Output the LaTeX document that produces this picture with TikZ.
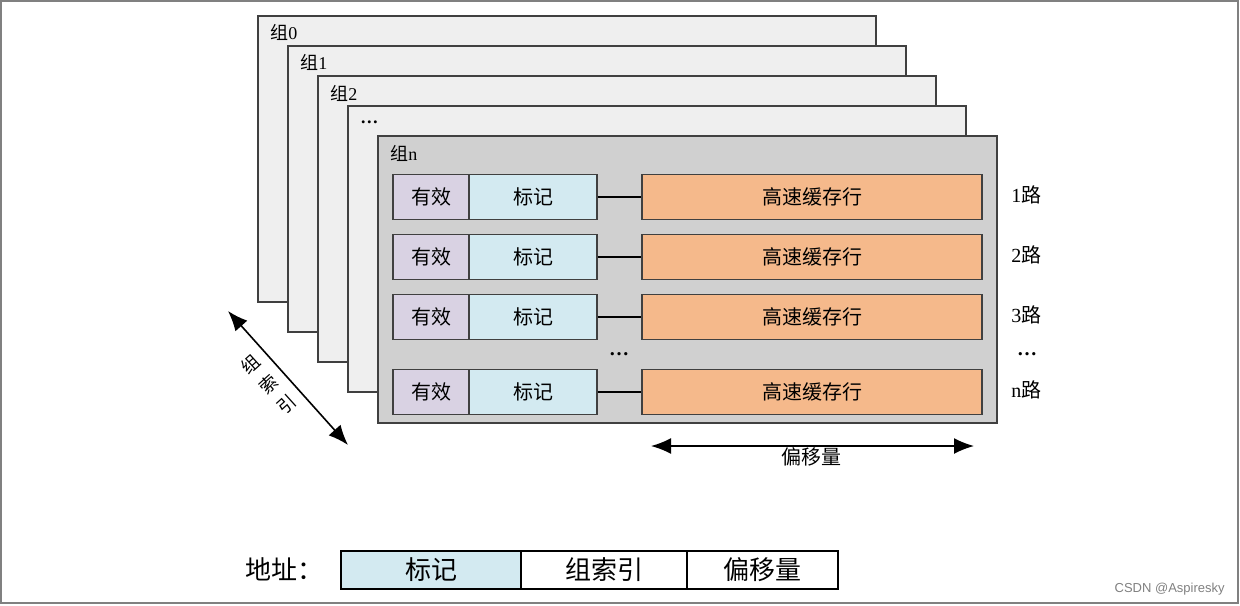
\documentclass[tikz,border=0pt]{standalone}
\usepackage{fontspec}
\setmainfont{Liberation Serif}
\newfontfamily\cjk{Noto Sans CJK SC}
\newfontfamily\wmfont{Liberation Sans}
\usetikzlibrary{arrows.meta}

\definecolor{sheetfill}{HTML}{EFEFEF}
\definecolor{setfill}{HTML}{D0D0D0}
\definecolor{validfill}{HTML}{D9D2E3}
\definecolor{tagfill}{HTML}{D3EAF1}
\definecolor{linefill}{HTML}{F5B98B}
\definecolor{edgegray}{HTML}{404040}

\tikzset{
  sheet/.style={draw=edgegray, line width=0.8pt, fill=sheetfill},
  cell/.style={draw=edgegray, line width=0.6pt, inner sep=0pt,
    minimum height=22.5pt, font=\fontsize{10}{12}\cjk},
  addrcell/.style={draw=black, line width=0.6pt, inner sep=0pt,
    minimum height=19pt, font=\fontsize{13}{15}\cjk},
  sheetlabel/.style={anchor=west, inner sep=0pt, font=\fontsize{9}{11}\selectfont},
  waylabel/.style={anchor=west, inner sep=0pt, font=\fontsize{10}{12}\selectfont},
  bigarrow/.style={{Latex[length=10pt,width=8pt]}-{Latex[length=10pt,width=8pt]}, line width=0.8pt}
}

\begin{document}
\begin{tikzpicture}[x=0.5pt, y=-0.5pt]
  \useasboundingbox (0,0) rectangle (1240,605);
  \draw[gray, line width=1pt] (1,1) rectangle (1238,603);

  % stacked sets
  \draw[sheet] (258,16) rectangle (876,302);
  \node[sheetlabel] (s0) at (270,32) {{\cjk 组}0};
  \draw[sheet] (288,46) rectangle (906,332);
  \node[sheetlabel] (s1) at (300,62) {{\cjk 组}1};
  \draw[sheet] (318,76) rectangle (936,362);
  \node[sheetlabel] (s2) at (330,93) {{\cjk 组}2};
  \draw[sheet] (348,106) rectangle (966,392);
  \node[sheetlabel] (sdots) at (360,122) {\textbf{\ldots}};
  \draw[sheet, fill=setfill] (378,136) rectangle (997,423);
  \node[sheetlabel] (sn) at (390,153) {{\cjk 组}n};

  % ways
  \foreach \y/\w in {197/1, 257/2, 317/3, 392/n} {
    \node[cell, fill=validfill, minimum width=38pt] (valid\w) at (431,\y) {有效};
    \node[cell, fill=tagfill, minimum width=64pt] (tag\w) at (533,\y) {标记};
    \node[cell, fill=linefill, minimum width=170pt] (line\w) at (812,\y) {高速缓存行};
    \draw[line width=0.8pt] (tag\w.east) -- (line\w.west);
    \node[waylabel] (way\w) at (1011,\y-2) {\w{\cjk 路}};
  }
  \node[inner sep=0pt] (rowdots) at (619,354) {\textbf{\ldots}};
  \node[inner sep=0pt] (waydots) at (1027,354) {\textbf{\ldots}};

  % offset arrow
  \coordinate (offL) at (651,446);
  \coordinate (offR) at (974,446);
  \draw[bigarrow] (offL) -- (offR);
  \node[inner sep=0pt, font=\fontsize{10}{12}\cjk] (offtext) at (811,457) {偏移量};

  % set index arrow
  \coordinate (idxA) at (228,311);
  \coordinate (idxB) at (348,445);
  \draw[bigarrow] (idxA) -- (idxB);
  \node[rotate=42, inner sep=0pt, align=center,
    font=\fontsize{9}{13.5}\cjk] (idxtext) at (269,384) {组\\索\\引};

  % address
  \node[anchor=west, inner sep=0pt, font=\fontsize{13}{15}\cjk] (addr) at (245,569) {地址：};
  \node[addrcell, fill=tagfill, minimum width=90pt] (atag) at (431,570) {标记};
  \node[addrcell, fill=white, minimum width=83pt] (aidx) at (604,570) {组索引};
  \node[addrcell, fill=white, minimum width=75.5pt] (aoff) at (762.5,570) {偏移量};

  \node[anchor=east, inner sep=0pt, text=gray, font=\fontsize{6.5}{8}\wmfont] (mark) at (1225,589) {CSDN @Aspiresky};
\end{tikzpicture}
\end{document}
